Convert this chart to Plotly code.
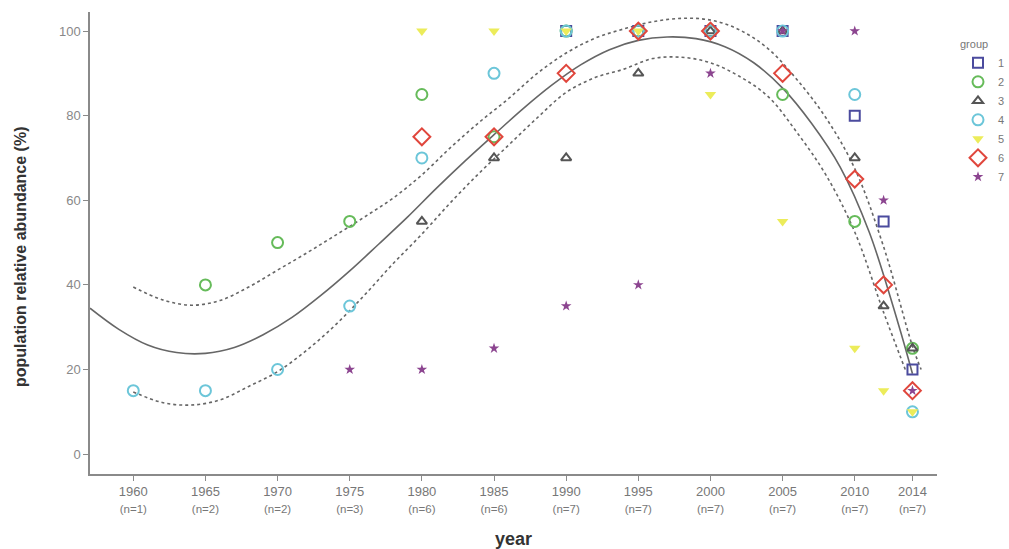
import plotly.graph_objects as go

# ---- tick labels ----
tick_years = [1960, 1965, 1970, 1975, 1980, 1985, 1990, 1995, 2000, 2005, 2010, 2014]
tick_n = [1, 2, 2, 3, 6, 6, 7, 7, 7, 7, 7, 7]
y_ticks = [0, 20, 40, 60, 80, 100]

# ---- group observations ----
g1_year = [1990, 1995, 2000, 2005, 2010, 2012, 2014]
g1_val = [100, 100, 100, 100, 80, 55, 20]
g2_year = [1965, 1970, 1975, 1980, 1985, 1990, 1995, 2000, 2005, 2010, 2014]
g2_val = [40, 50, 55, 85, 75, 100, 100, 100, 85, 55, 25]
g3_year = [1980, 1985, 1990, 1995, 2000, 2005, 2010, 2012, 2014]
g3_val = [55, 70, 70, 90, 100, 100, 70, 35, 25]
g4_year = [1960, 1965, 1970, 1975, 1980, 1985, 1990, 1995, 2000, 2005, 2010, 2014]
g4_val = [15, 15, 20, 35, 70, 90, 100, 100, 100, 100, 85, 10]
g5_year = [1980, 1985, 1990, 1995, 2000, 2005, 2010, 2012, 2014]
g5_val = [100, 100, 100, 100, 85, 55, 25, 15, 10]
g6_year = [1980, 1985, 1990, 1995, 2000, 2005, 2010, 2012, 2014]
g6_val = [75, 75, 90, 100, 100, 90, 65, 40, 15]
g7_year = [1975, 1980, 1985, 1990, 1995, 2000, 2005, 2010, 2012, 2014]
g7_val = [20, 20, 25, 35, 40, 90, 100, 100, 60, 15]

# ---- fitted curve and confidence band ----
fit_year = [1957, 1959, 1961, 1963, 1965, 1967, 1969, 1971, 1973, 1975, 1977, 1979, 1981,
            1983, 1985, 1987, 1989, 1991, 1993, 1995, 1997, 1999, 2001, 2003, 2005, 2007,
            2009, 2011, 2013, 2014]
fit_val = [34.5, 29.5, 25.8, 24.0, 23.8, 25.2, 28.2, 32.3, 37.5, 43.3, 49.6, 56, 62.8,
           69.3, 75.5, 81.6, 87.2, 92, 95.6, 97.8, 98.6, 98.2, 96.3, 92.5, 86.5, 78.2,
           67.8, 52.5, 31, 19]
upper_year = [1960, 1962, 1964, 1966, 1968, 1970, 1972, 1974, 1976, 1978, 1980, 1982, 1984,
              1986, 1988, 1990, 1992, 1994, 1996, 1998, 2000, 2002, 2004, 2006, 2008, 2010,
              2012, 2014, 2014.6]
upper_val = [39.5, 36.5, 35.2, 36.3, 39.5, 43.5, 47.5, 51.7, 56, 60.5, 66, 72.5, 78.5,
             84, 90, 94.8, 98.3, 100.5, 102.2, 103, 102.6, 100.3, 95.8, 88.5, 79.5, 67.5,
             49, 25.5, 20]
lower_year = [1960, 1962, 1964, 1966, 1968, 1970, 1972, 1974, 1976, 1978, 1980, 1982, 1984,
              1986, 1988, 1990, 1992, 1994, 1996, 1998, 2000, 2002, 2004, 2006, 2008, 2010,
              2012, 2013.5]
lower_val = [14.7, 12.2, 11.6, 12.8, 16, 19.5, 24.5, 30.5, 37.5, 45, 52, 59.5, 66.5,
             73, 79.5, 85.5, 89, 91, 93.5, 93.8, 92.5, 89.3, 84.5, 76, 66, 52.5,
             33.5, 20]

groups = [
    ("1", g1_year, g1_val, "square-open", "#4b4b9e", 10),
    ("2", g2_year, g2_val, "circle-open", "#66bb5a", 11),
    ("3", g3_year, g3_val, "triangle-up-open", "#555555", 9),
    ("4", g4_year, g4_val, "circle-open", "#6cc6d9", 11),
    ("5", g5_year, g5_val, "triangle-down", "#ecec5a", 10),
    ("6", g6_year, g6_val, "diamond-open", "#e0463c", 13),
    ("7", g7_year, g7_val, "star", "#8c4590", 8),
]

fig = go.Figure()

line_col = "#666666"
fig.add_trace(go.Scatter(x=fit_year, y=fit_val, mode="lines", line=dict(color=line_col, width=1.6, shape="spline"),
                         showlegend=False, hoverinfo="skip"))
fig.add_trace(go.Scatter(x=upper_year, y=upper_val, mode="lines",
                         line=dict(color=line_col, width=1.6, dash="dot", shape="spline"),
                         showlegend=False, hoverinfo="skip"))
fig.add_trace(go.Scatter(x=lower_year, y=lower_val, mode="lines",
                         line=dict(color=line_col, width=1.6, dash="dot", shape="spline"),
                         showlegend=False, hoverinfo="skip"))

for name, xs, ys, sym, col, size in groups:
    if sym.endswith("open"):
        marker = dict(symbol=sym, size=size, color=col, line=dict(color=col, width=2))
    else:
        marker = dict(symbol=sym, size=size, color=col, line=dict(color=col, width=0))
    fig.add_trace(go.Scatter(x=xs, y=ys, mode="markers", name=name, marker=marker))

ticktext = [f"{y}<br><span style='font-size:11.5px'>(n={n})</span>" for y, n in zip(tick_years, tick_n)]

axis_col = "#8a8a8a"
fig.update_layout(
    width=1009, height=549,
    margin=dict(l=90, r=72, t=12, b=75, autoexpand=False),
    paper_bgcolor="white", plot_bgcolor="white",
    font=dict(family="Liberation Sans, Arial, sans-serif", color="#777777", size=12),
    xaxis=dict(range=[1957, 2015.7], tickvals=tick_years, ticktext=ticktext,
               showgrid=False, zeroline=False, showline=True, linecolor=axis_col, linewidth=1.5,
               ticks="outside", ticklen=5, tickcolor=axis_col, tickfont=dict(size=13, color="#777777"),
               title=dict(text="<b>year</b>", font=dict(size=18, color="#333333"), standoff=22)),
    yaxis=dict(range=[-4.7, 104.5], tickvals=y_ticks,
               showgrid=False, zeroline=False, showline=True, linecolor=axis_col, linewidth=1.5,
               ticks="outside", ticklen=5, tickcolor=axis_col, tickfont=dict(size=13, color="#888888")),
    annotations=[dict(text="<b>population relative abundance (%)</b>", xref="paper", yref="paper",
                      x=(20 - 90) / 847, y=(474 - 257) / 462, xanchor="center", yanchor="middle",
                      textangle=-90, showarrow=False, font=dict(size=16, color="#333333"))],
    legend=dict(x=(958 - 90) / 847 - 0.0, y=(474 - 34) / 462, xanchor="left", yanchor="top",
                title=dict(text="group", font=dict(size=11, color="#777777")),
                font=dict(size=11, color="#777777"), tracegroupgap=0, itemwidth=30,
                bgcolor="rgba(0,0,0,0)"),
)
fig.update_layout(legend_x=(958 - 90) / 847 - 1 + 1)

fig.write_html("out.html")
